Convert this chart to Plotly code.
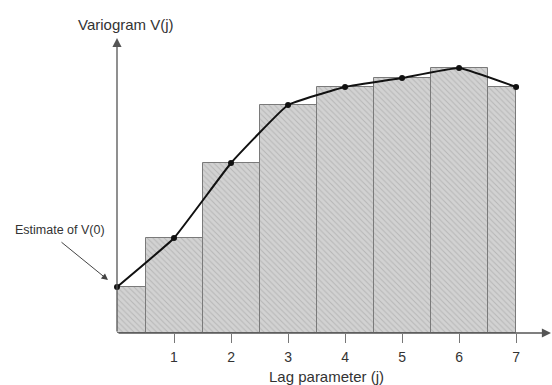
import plotly.graph_objects as go

# Data
lags = [0, 1, 2, 3, 4, 5, 6, 7]
variogram = [0.46, 0.95, 1.70, 2.28, 2.46, 2.55, 2.65, 2.46]
tick_labels = ["1", "2", "3", "4", "5", "6", "7"]
tick_vals = [1, 2, 3, 4, 5, 6, 7]

x_max = 7.63
y_max = 2.95

# Bars: each lag covers [j-0.5, j+0.5], clipped to [0, 7]
lo_lag, hi_lag = min(lags), max(lags)
bar_x, bar_w = [], []
for j in lags:
    a = max(j - 0.5, lo_lag)
    b = min(j + 0.5, hi_lag)
    bar_x.append((a + b) / 2)
    bar_w.append(b - a)

fig = go.Figure()
fig.add_trace(go.Bar(
    x=bar_x, y=variogram, width=bar_w,
    marker=dict(
        color="#cfcfcf",
        line=dict(color="#7a7a7a", width=1),
        pattern=dict(shape="\\", fgcolor="#9a9a9a", bgcolor="#d2d2d2",
                     size=4, solidity=0.25),
    ),
    showlegend=False, hoverinfo="skip",
))
fig.add_trace(go.Scatter(
    x=lags, y=variogram, mode="lines+markers",
    line=dict(color="#111111", width=2, shape="spline", smoothing=0.3),
    marker=dict(color="#111111", size=6),
    showlegend=False, cliponaxis=False,
))

font_main = "Liberation Sans, Arial, sans-serif"
txt = "#333333"

L, R, T, B = 117, 0, 38, 52
W, H = 552, 385
pw, ph = W - L - R, H - T - B

def px(x):
    return (x - L) / pw

def py(y):
    return (H - y - B) / ph

def label(x, y, text, size):
    return dict(x=px(x), y=py(y), xref="paper", yref="paper", text=text,
                showarrow=False, xanchor="center", yanchor="middle",
                font=dict(family=font_main, size=size, color=txt))

annotations = [
    # y axis arrow
    dict(x=0, y=1.0, xref="paper", yref="paper", ax=0, ay=ph, axref="pixel", ayref="pixel",
         showarrow=True, arrowhead=2, arrowsize=1.4, arrowwidth=1.3, arrowcolor="#555555", text=""),
    # x axis arrow
    dict(x=1.01, y=0, xref="paper", yref="paper", ax=-1.01 * pw, ay=0, axref="pixel", ayref="pixel",
         showarrow=True, arrowhead=2, arrowsize=1.4, arrowwidth=1.3, arrowcolor="#555555", text=""),
    label(126, 24, "Variogram V(j)", 15),
    label(326, 376, "Lag parameter (j)", 15),
    label(60, 230, "Estimate of V(0)", 12.5),
    # arrow for estimate
    dict(x=px(108), y=py(280), xref="paper", yref="paper", ax=-48, ay=-39,
         axref="pixel", ayref="pixel", text="", showarrow=True,
         arrowhead=2, arrowsize=1.3, arrowwidth=1, arrowcolor="#444444"),
]

fig.update_layout(
    width=W, height=H,
    margin=dict(l=L, r=R, t=T, b=B),
    paper_bgcolor="white", plot_bgcolor="white",
    bargap=0,
    annotations=annotations,
    xaxis=dict(range=[0, x_max], tickvals=tick_vals, ticktext=tick_labels,
               ticks="outside", ticklen=9, tickcolor="#777777", showgrid=False,
               zeroline=False, showline=False, ticklabelstandoff=2,
               tickfont=dict(family=font_main, size=14, color=txt)),
    yaxis=dict(range=[0, y_max], showticklabels=False, ticks="", showgrid=False,
               zeroline=False, showline=False),
)

fig.write_html("out.html")
